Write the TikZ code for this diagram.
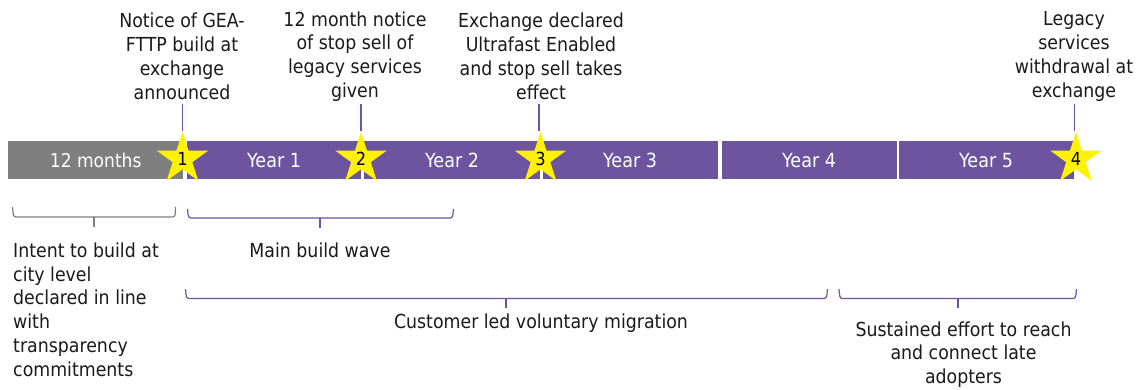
\documentclass[tikz,border=0pt]{standalone}
\usepackage{fontspec}
\setmainfont[FakeStretch=0.9]{DejaVu Sans}
\usetikzlibrary{shapes.geometric}
\definecolor{vio}{HTML}{6C549E}
\definecolor{gre}{HTML}{7F7F7F}
\definecolor{txt}{HTML}{1A1A1A}
\tikzset{
  x=1pt,y=-1pt,
  seg/.style={anchor=north west,inner sep=0pt,minimum height=38pt,fill=vio,draw=none,text=white,font=\fontsize{19}{22}\selectfont},
  yr/.style={text=white,font=\fontsize{19.5}{22}\selectfont,inner sep=0pt},
  lab/.style={inner sep=0pt,text=txt,font=\fontsize{19.3}{23.8}\selectfont,align=center},
  starn/.style={star,star points=5,star point ratio=2.618,fill=yellow,draw=none,inner sep=0pt,minimum size=54pt,font=\fontsize{18}{20}\selectfont,text=black},
  lead/.style={draw=vio,line width=1.3pt},
  brace/.style={line width=1.2pt,rounded corners=2.5pt},
}
\begin{document}
\begin{tikzpicture}
\useasboundingbox[fill=white] (0,0) rectangle (1144,389);
% bar
\node[seg,fill=gre,minimum width=175pt] (s0) at (8,141) {12 months};
\node[seg,minimum width=174pt] (s1) at (187,141) {};
\node[seg,minimum width=176pt] (s2) at (364,141) {};
\node[seg,minimum width=175pt] (s3) at (543,141) {};
\node[seg,minimum width=175pt] (s4) at (722,141) {};
\node[seg,minimum width=175pt] (s5) at (899,141) {};
\node[yr] (y1) at (274,160.5) {Year 1};
\node[yr] (y2) at (452,160.5) {Year 2};
\node[yr] (y3) at (630,160.5) {Year 3};
\node[yr] (y4) at (809,160.5) {Year 4};
\node[yr] (y5) at (986,160.5) {Year 5};
% lead coordinates
\coordinate (c1) at (182.5,104);
\coordinate (c2) at (361,104);
\coordinate (c3) at (539,104);
\coordinate (c4) at (1074.5,104);
% stars
\node[starn] (st1) at (182.5,159) {1};
\node[starn] (st2) at (361,159) {2};
\node[starn] (st3) at (540.5,159) {3};
\node[starn] (st4) at (1076,159) {4};
\draw[lead] (c1) -- (c1 |- st1.north);
\draw[lead] (c2) -- (c2 |- st2.north);
\draw[lead] (c3) -- (c3 |- st3.north);
\draw[lead] (c4) -- (c4 |- st4.north);
% top labels
\node[lab] (t1) at (182,56.5) {Notice of GEA-\\FTTP build at\\exchange\\announced};
\node[lab] (t2) at (355,56.5) {12 month notice\\of stop sell of\\legacy services\\given};
\node[lab] (t3) at (541,56.5) {Exchange declared\\Ultrafast Enabled\\and stop sell takes\\effect};
\node[lab] (t4) at (1074,56.5) {Legacy\\services\\withdrawal at\\exchange};
% brackets
\coordinate (b0) at (94,227);
\coordinate (b1) at (320,228);
\coordinate (b2) at (506,308);
\coordinate (b3) at (958,308);
\draw[brace,draw=gre] (12.5,207) -- (13.5,217) -- (175,217) -- (175.5,207);
\draw[line width=1.2pt,draw=gre] (b0) -- (94,217);
\draw[brace,draw=vio] (187.5,209) -- (188.5,218) -- (452.5,218) -- (453.5,209);
\draw[line width=1.2pt,draw=vio] (b1) -- (320,218);
\draw[brace,draw=vio] (185.5,289) -- (186.5,298.5) -- (826.5,298.5) -- (827.5,289);
\draw[line width=1.2pt,draw=vio] (b2) -- (506,298.5);
\draw[brace,draw=vio] (839,289) -- (840,298.5) -- (1075.5,298.5) -- (1076.5,289);
\draw[line width=1.2pt,draw=vio] (b3) -- (958,298.5);
% bottom labels
\node[lab,align=left,anchor=west] (l0) at (13,309.5) {Intent to build at\\city level\\declared in line\\with\\transparency\\commitments};
\node[lab] (l1) at (320,250) {Main build wave};
\node[lab] (l2) at (541,323.5) {Customer led voluntary migration};
\node[lab] (l3) at (963.5,354.5) {Sustained effort to reach\\and connect late\\adopters};
\end{tikzpicture}
\end{document}
